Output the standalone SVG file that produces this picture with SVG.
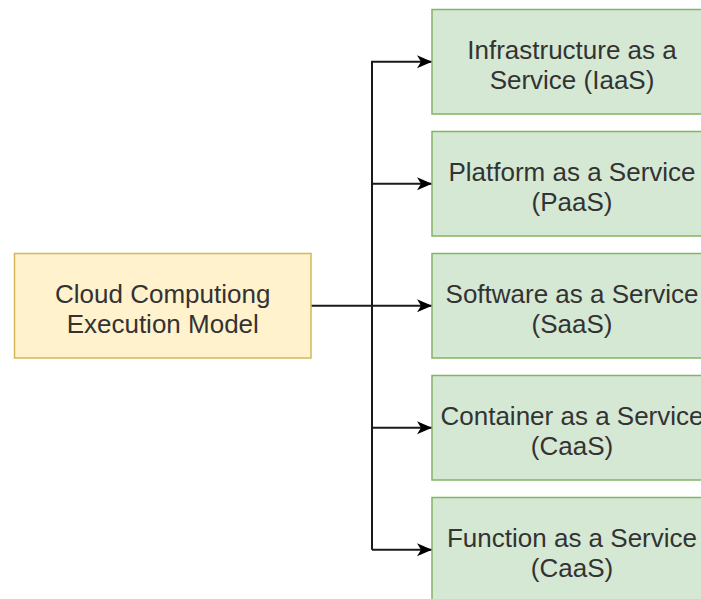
<svg xmlns="http://www.w3.org/2000/svg" width="701" height="599" viewBox="0 0 701 599">
  <style>
    .root rect { fill: #fff2cc; stroke: #d6b656; stroke-width: 1.5; }
    .svc rect { fill: #d5e8d4; stroke: #82b366; stroke-width: 1.5; }
    text { font-family: "Liberation Sans", Arial, Helvetica, sans-serif; font-size: 26px; fill: #333333; text-anchor: middle; }
    .wire { fill: none; stroke: #1a1a1a; stroke-width: 2; }
  </style>
  <defs>
    <marker id="arrow" viewBox="0 0 16 14" refX="15" refY="7" markerWidth="16" markerHeight="14" markerUnits="userSpaceOnUse" orient="auto">
      <path d="M15 7 L0 0.5 L4 7 L0 13.5 Z" fill="#000000"/>
    </marker>
  </defs>
  <rect width="701" height="599" fill="#ffffff"/>

  <g id="connectors">
    <path class="wire" d="M311 305.75 H432" marker-end="url(#arrow)"/>
    <path class="wire" d="M372 549.75 V61.75 H432" marker-end="url(#arrow)"/>
    <path class="wire" d="M372 183.75 H432" marker-end="url(#arrow)"/>
    <path class="wire" d="M372 427.75 H432" marker-end="url(#arrow)"/>
    <path class="wire" d="M372 549.75 H432" marker-end="url(#arrow)"/>
  </g>

  <g id="execution-model" class="root">
    <rect x="14.5" y="253.5" width="296.5" height="104.5"/>
    <text x="162.75" y="303">Cloud Computiong</text>
    <text x="162.75" y="333">Execution Model</text>
  </g>

  <g id="iaas" class="svc">
    <rect x="432" y="9.5" width="280" height="104.5"/>
    <text x="572" y="58.5">Infrastructure as a</text>
    <text x="572" y="88.5">Service (IaaS)</text>
  </g>

  <g id="paas" class="svc">
    <rect x="432" y="131.5" width="280" height="104.5"/>
    <text x="572" y="180.5">Platform as a Service</text>
    <text x="572" y="210.5">(PaaS)</text>
  </g>

  <g id="saas" class="svc">
    <rect x="432" y="253.5" width="280" height="104.5"/>
    <text x="572" y="302.5">Software as a Service</text>
    <text x="572" y="332.5">(SaaS)</text>
  </g>

  <g id="caas-container" class="svc">
    <rect x="432" y="375.5" width="280" height="104.5"/>
    <text x="572" y="424.5">Container as a Service</text>
    <text x="572" y="454.5">(CaaS)</text>
  </g>

  <g id="caas-function" class="svc">
    <rect x="432" y="497.5" width="280" height="104.5"/>
    <text x="572" y="546.5">Function as a Service</text>
    <text x="572" y="576.5">(CaaS)</text>
  </g>
</svg>
